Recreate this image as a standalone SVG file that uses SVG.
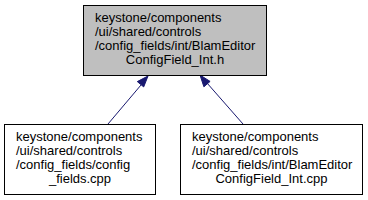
<svg xmlns="http://www.w3.org/2000/svg" width="368" height="200" viewBox="0 0 368 200">
<style>
.box{stroke:#000;stroke-width:1}
.t{font-family:"Liberation Sans",Arial,sans-serif;font-size:13px;fill:#000}
.c{text-anchor:middle}
.edge{stroke:#191970;stroke-width:1;fill:none}
.head{fill:#191970;stroke:#191970;stroke-width:1}
</style>
<rect width="368" height="200" fill="#fff"/>
<g id="connectors">
<path class="edge" d="M108,124 L141,85"/>
<polygon class="head" points="148,76 137.3,81.6 143.7,86.9"/>
<path class="edge" d="M243,124 L207,83"/>
<polygon class="head" points="200,75 210.1,81.4 203.9,86.8"/>
</g>
<g id="node_main">
<rect class="box" x="83.5" y="5.5" width="183" height="70" fill="#bfbfbf"/>
<text class="t" x="95" y="22">keystone/components</text>
<text class="t" x="95" y="36">/ui/shared/controls</text>
<text class="t" x="95" y="50">/config_fields/int/BlamEditor</text>
<text class="t c" x="175" y="64">ConfigField_Int.h</text>
</g>
<g id="node_config_fields">
<rect class="box" x="4.5" y="124.5" width="151" height="70" fill="#fff"/>
<text class="t" x="16" y="141">keystone/components</text>
<text class="t" x="16" y="155">/ui/shared/controls</text>
<text class="t" x="16" y="169">/config_fields/config</text>
<text class="t c" x="80" y="183">_fields.cpp</text>
</g>
<g id="node_int_cpp">
<rect class="box" x="180.5" y="124.5" width="182" height="70" fill="#fff"/>
<text class="t" x="192" y="141">keystone/components</text>
<text class="t" x="192" y="155">/ui/shared/controls</text>
<text class="t" x="192" y="169">/config_fields/int/BlamEditor</text>
<text class="t c" x="271.5" y="183">ConfigField_Int.cpp</text>
</g>
</svg>
